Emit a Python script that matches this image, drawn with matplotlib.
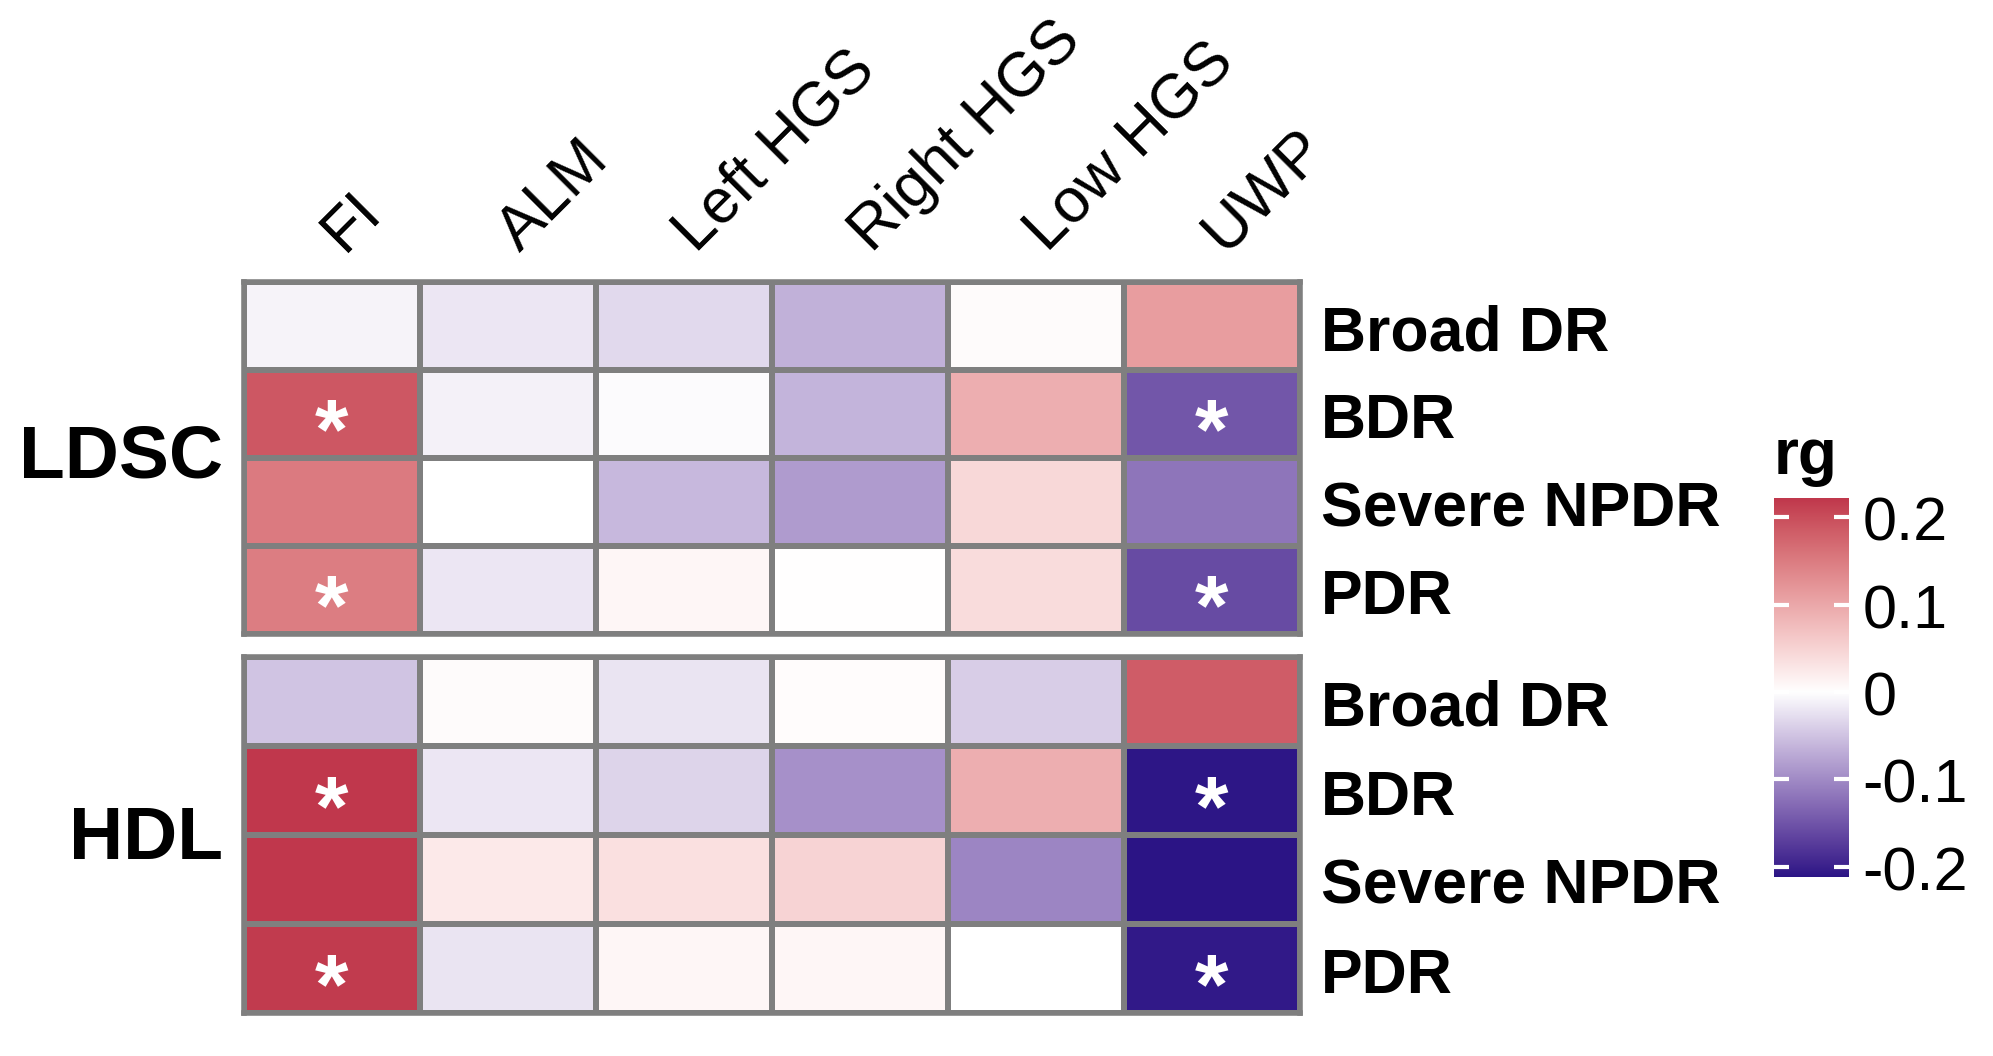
import numpy as np
import matplotlib
matplotlib.use("Agg")
import matplotlib.pyplot as plt
from matplotlib.colors import ListedColormap, Normalize
from matplotlib.transforms import ScaledTranslation

plt.rcParams['font.family'] = ['Liberation Sans', 'DejaVu Sans']

# ---------------- data ----------------
traits = ["FI", "ALM", "Left HGS", "Right HGS", "Low HGS", "UWP"]
outcomes = ["Broad DR", "BDR", "Severe NPDR", "PDR"]
panels = ["LDSC", "HDL"]

rg_ldsc = [
    [-0.010, -0.020, -0.032, -0.066, 0.005, 0.112],
    [0.190, -0.012, -0.003, -0.064, 0.092, -0.150],
    [0.152, 0.000, -0.060, -0.085, 0.045, -0.120],
    [0.150, -0.020, 0.010, 0.001, 0.040, -0.160],
]
rg_hdl = [
    [-0.050, 0.005, -0.022, 0.004, -0.042, 0.185],
    [0.222, -0.020, -0.036, -0.095, 0.092, -0.210],
    [0.222, 0.025, 0.035, 0.050, -0.105, -0.212],
    [0.218, -0.022, 0.010, 0.010, 0.000, -0.208],
]
sig_ldsc = [
    [0, 0, 0, 0, 0, 0],
    [1, 0, 0, 0, 0, 1],
    [0, 0, 0, 0, 0, 0],
    [1, 0, 0, 0, 0, 1],
]
sig_hdl = [
    [0, 0, 0, 0, 0, 0],
    [1, 0, 0, 0, 0, 1],
    [0, 0, 0, 0, 0, 0],
    [1, 0, 0, 0, 0, 1],
]
cbar_ticks = [-0.2, -0.1, 0.0, 0.1, 0.2]
cbar_ticklabels = ["-0.2", "-0.1", "0", "0.1", "0.2"]

# ---------------- Lab-interpolated diverging colormap ----------------
def hex2rgb(h):
    h = h.lstrip('#')
    return np.array([int(h[i:i + 2], 16) / 255 for i in (0, 2, 4)])

def srgb2lin(c):
    return np.where(c <= 0.04045, c / 12.92, ((c + 0.055) / 1.055) ** 2.4)

def lin2srgb(c):
    c = np.clip(c, 0, 1)
    return np.where(c <= 0.0031308, 12.92 * c, 1.055 * c ** (1 / 2.4) - 0.055)

M = np.array([[0.4124, 0.3576, 0.1805],
              [0.2126, 0.7152, 0.0722],
              [0.0193, 0.1192, 0.9505]])
Minv = np.linalg.inv(M)
WHITE = M @ np.ones(3)

def f(t):
    d = 6 / 29
    return np.where(t > d ** 3, np.cbrt(t), t / (3 * d * d) + 4 / 29)

def finv(t):
    d = 6 / 29
    return np.where(t > d, t ** 3, 3 * d * d * (t - 4 / 29))

def rgb2lab(rgb):
    xyz = M @ srgb2lin(rgb) / WHITE
    fx, fy, fz = f(xyz)
    return np.array([116 * fy - 16, 500 * (fx - fy), 200 * (fy - fz)])

def lab2rgb(lab):
    L, a, b = lab
    fy = (L + 16) / 116
    fx = fy + a / 500
    fz = fy - b / 200
    xyz = finv(np.array([fx, fy, fz])) * WHITE
    return lin2srgb(Minv @ xyz)

low = rgb2lab(hex2rgb("#1A0880"))
mid = rgb2lab(hex2rgb("#FFFFFF"))
high = rgb2lab(hex2rgb("#C0374C"))
cols = []
for t in np.linspace(0, 1, 512):
    if t < 0.5:
        s = t / 0.5
        lab = low + (mid - low) * s
    else:
        s = (t - 0.5) / 0.5
        lab = mid + (high - mid) * s
    cols.append(np.clip(lab2rgb(lab), 0, 1))
cmap = ListedColormap(cols)

all_vals = np.array(rg_ldsc + rg_hdl)
m = np.abs(all_vals).max()
norm = Normalize(vmin=-m, vmax=m)

# ---------------- figure ----------------
W, H = 1993, 1056
fig = plt.figure(figsize=(W / 100, H / 100), dpi=100)
fig.patch.set_facecolor('white')

def fx_(px):
    return px / W

def fy_(py_top, py_bot):
    return 1 - py_bot / H, (py_bot - py_top) / H

gx0, gx1 = 244, 1300
boxes = [(282, 634), (657, 1013)]
edge = '#7f7f7f'
LAB_FS = 45
down = ScaledTranslation(0, -8 / 100, fig.dpi_scale_trans)

for k, (data, sig, name) in enumerate(zip([rg_ldsc, rg_hdl], [sig_ldsc, sig_hdl], panels)):
    b, h = fy_(*boxes[k])
    ax = fig.add_axes([fx_(gx0), b, fx_(gx1 - gx0), h])
    arr = np.array(data)
    ax.pcolormesh(np.arange(len(traits) + 1), np.arange(len(outcomes) + 1), arr,
                  cmap=cmap, norm=norm, edgecolors=edge, linewidth=3.0)
    ax.set_xlim(0, len(traits))
    ax.set_ylim(len(outcomes), 0)
    ax.set_xticks([])
    ax.set_yticks([])
    for sp in ax.spines.values():
        sp.set_color(edge)
        sp.set_linewidth(4)
    for i, lab in enumerate(outcomes):
        ax.text(6.12, i + 0.5, lab, ha='left', va='center', fontsize=LAB_FS,
                fontweight='bold', clip_on=False, transform=ax.transData + down)
        for j in range(len(traits)):
            if sig[i][j]:
                ax.text(j + 0.5, i + 0.5 + 0.25, '*', ha='center', va='center',
                        fontsize=62, fontweight='bold', color='white')
    ax.text(-0.12, 2.0 if k == 0 else 2.05, name, ha='right', va='center', fontsize=54,
            fontweight='bold', clip_on=False)
    if k == 0:
        for j, lab in enumerate(traits):
            ax.text(j + 0.62, -0.22, lab, ha='left', va='bottom', rotation=45,
                    rotation_mode='anchor', fontsize=LAB_FS, clip_on=False)

# ---------------- colorbar ----------------
vmin_d, vmax_d = all_vals.min(), all_vals.max()
cb_x0, cb_x1 = 1774, 1849
cb_t, cb_b = 498, 877
b, h = fy_(cb_t, cb_b)
cax = fig.add_axes([fx_(cb_x0), b, fx_(cb_x1 - cb_x0), h])
grad = np.linspace(vmin_d, vmax_d, 400).reshape(-1, 1)
cax.imshow(grad, aspect='auto', cmap=cmap, norm=norm, origin='lower',
           extent=[0, 1, vmin_d, vmax_d])
cax.set_xlim(0, 1)
cax.set_ylim(vmin_d, vmax_d)
cax.set_xticks([])
cax.set_yticks([])
for sp in cax.spines.values():
    sp.set_visible(False)
for t, lab in zip(cbar_ticks, cbar_ticklabels):
    cax.plot([0, 0.2], [t, t], color='white', lw=3, solid_capstyle='butt')
    cax.plot([0.8, 1.0], [t, t], color='white', lw=3, solid_capstyle='butt')
    cax.text(1.18, t, lab, ha='left', va='center', fontsize=44,
             transform=cax.get_yaxis_transform() + down, clip_on=False)
cax.text(0.0, 1.03, 'rg', ha='left', va='bottom', fontsize=46, fontweight='bold',
         transform=cax.transAxes)

fig.savefig('out.png', dpi=100, facecolor='white')
